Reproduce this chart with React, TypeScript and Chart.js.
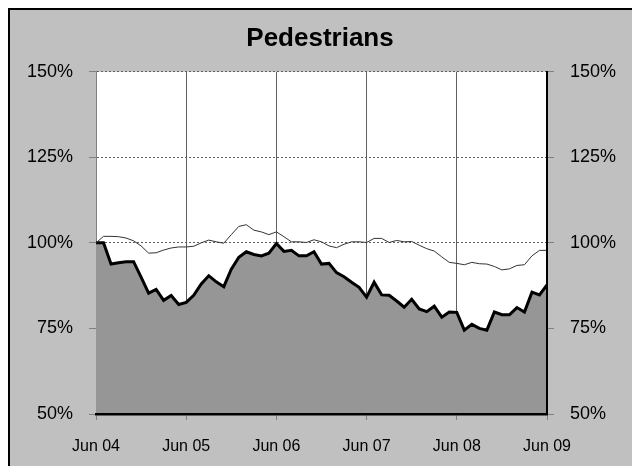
import React, { useEffect, useRef } from "react";
import { Chart, registerables } from "chart.js";

Chart.register(...registerables);

const monthNames = ["Jun", "Jul", "Aug", "Sep", "Oct", "Nov", "Dec", "Jan", "Feb", "Mar", "Apr", "May"];
const tickLabels = ["Jun 04", "Jun 05", "Jun 06", "Jun 07", "Jun 08", "Jun 09"];
const yTicks = [50, 75, 100, 125, 150];

// Monthly categories Jun 04 .. Jun 09
const categories: string[] = [];
for (let i = 0; i <= 60; i++) {
  const yr = 4 + Math.floor((i + 5) / 12);
  categories.push(monthNames[i % 12] + " " + String(yr).padStart(2, "0"));
}

const pedestrians = [
  100, 100, 93.8, 94.2, 94.5, 94.5, 90, 85.3, 86.4, 83.2, 84.6, 82, 82.6,
  84.7, 88, 90.4, 88.6, 87.2, 92.3, 95.8, 97.4, 96.6, 96.2, 97, 99.8,
  97.5, 97.8, 96.2, 96.2, 97.4, 93.8, 94, 91.3, 90.1, 88.5, 87, 84.1,
  88.5, 84.8, 84.7, 83, 81.2, 83.5, 80.7, 79.9, 81.5, 78.3, 79.8, 79.7,
  74.5, 76.2, 75, 74.5, 79.8, 79, 79, 81.1, 79.8, 85.6, 84.8, 87.7,
];

const comparison = [
  100, 101.9, 101.9, 101.8, 101.4, 100.6, 99.1, 97, 97.1, 97.9, 98.5, 98.8, 98.8,
  99, 100, 100.8, 100.3, 99.9, 102.4, 104.8, 105.3, 103.7, 103.2, 102.4, 103.2,
  101.8, 100.3, 100.3, 100.1, 100.9, 100.3, 99.1, 98.6, 99.6, 100.3, 100.3, 100.1,
  101.3, 101.3, 100.1, 100.7, 100.3, 100.4, 99.3, 98.3, 97.6, 95.9, 94.3, 94,
  93.6, 94.3, 93.9, 93.8, 93.1, 92.1, 92.4, 93.4, 93.6, 96.2, 97.8, 97.8,
];

const FONT = '"Liberation Sans", Arial, Helvetica, sans-serif';

const panelPlugin = {
  id: "panelBg",
  beforeDraw(chart: any) {
    const { ctx, width, height, chartArea } = chart;
    ctx.save();
    ctx.fillStyle = "#c0c0c0";
    ctx.fillRect(0, 0, width, height);
    ctx.fillStyle = "#ffffff";
    ctx.fillRect(chartArea.left, chartArea.top, chartArea.right - chartArea.left, chartArea.bottom - chartArea.top);
    ctx.fillStyle = "#000000";
    ctx.fillRect(0, 0, width, 2);
    ctx.fillRect(0, 0, 2, height);
    ctx.restore();
  },
};

export default function App() {
  const canvasRef = useRef<HTMLCanvasElement | null>(null);

  useEffect(() => {
    if (!canvasRef.current) return;
    Chart.defaults.font.family = FONT;
    Chart.defaults.color = "#000";
    const yTickOpts = {
      stepSize: 25,
      padding: 16,
      font: { size: 18, family: FONT },
      color: "#000",
      callback: (v: any) => (yTicks.includes(Number(v)) ? v + "%" : ""),
    };
    const chart = new Chart(canvasRef.current, {
      type: "line",
      data: {
        labels: categories,
        datasets: [
          {
            label: "Comparison",
            data: comparison,
            borderColor: "#333333",
            borderWidth: 1,
            pointRadius: 0,
            fill: false,
            tension: 0,
            order: 0,
          },
          {
            label: "Pedestrians",
            data: pedestrians,
            borderColor: "#000000",
            borderWidth: 3,
            backgroundColor: "#969696",
            pointRadius: 0,
            fill: "start",
            tension: 0,
            order: 1,
          },
        ],
      },
      options: {
        animation: false,
        responsive: true,
        maintainAspectRatio: false,
        layout: { padding: 0 },
        plugins: {
          legend: { display: false },
          tooltip: { enabled: false },
          title: {
            display: true,
            text: "Pedestrians",
            color: "#000",
            font: { size: 26, weight: "bold", family: FONT, lineHeight: 1.2 },
            padding: { top: 15, bottom: 17.5 },
          },
        },
        scales: {
          x: {
            type: "category",
            offset: false,
            grid: {
              color: (c: any) => (c.index % 12 === 0 ? "#606060" : "rgba(0,0,0,0)"),
              tickColor: (c: any) => (c.index % 12 === 0 ? "#808080" : "rgba(0,0,0,0)"),
              tickLength: 6,
              lineWidth: 1,
            },
            border: { color: "#000", width: 2.5, z: 1 },
            ticks: {
              autoSkip: false,
              maxRotation: 0,
              minRotation: 0,
              padding: 17,
              font: { size: 16, family: FONT },
              color: "#000",
              callback: (_v: any, i: number) => (i % 12 === 0 ? tickLabels[i / 12] : ""),
            },
            afterFit: (s: any) => {
              s.height = 52;
            },
          },
          y: {
            position: "left",
            min: 50,
            max: 150,
            ticks: yTickOpts,
            grid: { color: "#606060", tickColor: "#808080", tickLength: 7, lineWidth: 1 },
            border: { color: "#808080", width: 1, dash: [2, 2] },
            afterFit: (s: any) => {
              s.width = 88;
            },
          },
          y2: {
            type: "linear",
            position: "right",
            min: 50,
            max: 150,
            ticks: yTickOpts,
            grid: { drawOnChartArea: false, tickColor: "#808080", tickLength: 7 },
            border: { color: "#000", width: 2, z: 1 },
            afterFit: (s: any) => {
              s.width = 85;
            },
          },
        },
      } as any,
      plugins: [panelPlugin],
    });
    return () => chart.destroy();
  }, []);

  return (
    <div style={{ position: "fixed", left: 8, top: 8, width: 624, height: 458 }}>
      <canvas ref={canvasRef} />
    </div>
  );
}
